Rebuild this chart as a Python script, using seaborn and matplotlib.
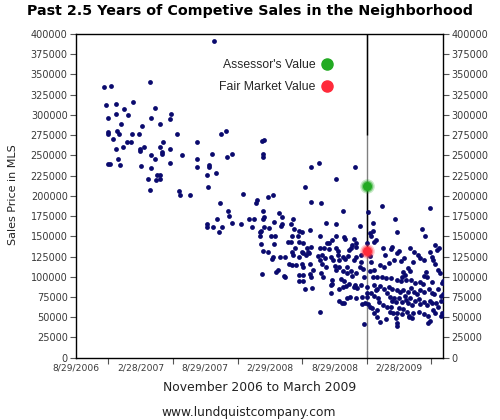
import matplotlib
matplotlib.use("Agg")
import matplotlib.pyplot as plt
import seaborn as sns
import pandas as pd
from matplotlib.lines import Line2D

# sale date as days after 8/29/2006, price in $1000
sale_day = [
    80, 98, 209, 85, 112, 135, 162, 224, 90, 112, 146, 212, 128, 237, 188, 91, 115, 90, 122, 158,
    177, 106, 145, 155, 246, 133, 237, 192, 181, 113, 180, 243, 244, 265, 212, 224, 118, 91, 95, 125,
    183, 212, 265, 228, 239, 203, 226, 237, 210, 391, 269, 265, 286, 410, 425, 343, 301, 385, 427, 441,
    343, 342, 377, 377, 397, 371, 373, 292, 294, 323, 473, 406, 431, 434, 399, 440, 467, 370, 370, 387,
    413, 404,
    527, 533, 529, 530,
    543, 557, 513, 509, 649, 665, 665, 530, 532, 528, 490, 503, 574, 582,
    561, 615, 609, 580, 584, 498, 531, 524, 520, 521, 547, 617, 663, 632, 638, 627, 551, 562, 612,
    523, 560, 601, 608, 630, 643, 619, 654, 530, 542, 558, 555, 577, 592, 610, 613, 640, 643, 651, 656, 659,
    602, 612, 621, 640, 643, 631, 565, 571, 589, 592, 631, 642, 630, 643, 526, 648, 661,
    686, 790, 735, 693, 756, 826, 803, 707, 735, 689,
    735, 758, 761, 724, 717, 710, 787, 793, 780, 792, 824, 831, 840, 666, 691, 702, 716, 735, 742, 772,
    778, 684, 697, 705, 691, 722, 728, 741, 743, 756, 769, 762, 793, 786, 805, 806, 833, 834,
    663, 669,
    697, 706, 693, 700, 733, 745, 736, 754, 768, 777, 768, 780, 792, 802, 813, 815, 833, 840,
    665, 724, 720, 750, 758, 763, 755, 744, 773, 790, 787, 796, 807, 667,
    721, 724, 823, 824, 823, 745, 753, 766, 775, 792, 809, 809, 818, 827, 831, 759, 691, 814,
    867, 1002, 901, 840, 980, 986, 908, 835, 848, 844, 895, 891, 913, 908, 945, 955, 1016, 1028, 1022, 869,
    874, 967, 974, 1000, 1007, 900, 886, 927, 919, 861, 871, 954, 983, 1011, 1015, 842, 938, 945, 925, 931,
    922, 1024, 1030, 991, 983,
    851, 865, 876, 891, 908, 920, 934, 948, 959, 974, 981, 993, 1008, 1035, 1037, 843, 852, 848, 860, 872,
    885, 895, 881, 908, 916, 925, 938, 930, 947, 956, 964, 973, 983, 998, 1006, 1014, 1024, 1032, 1038, 835,
    844, 853, 858, 889, 900, 893, 905, 915, 922, 934, 945, 940, 951, 960, 969, 974, 983, 992, 1001, 1007,
    1017, 1025, 1032, 868, 879, 891, 913, 926, 838, 851, 843, 889, 898, 909, 922, 936, 943, 954, 970, 983,
    996, 1009, 1016, 1036, 852, 860, 877, 904, 908, 909, 941, 950, 995, 1000,
    1033,
]

sale_price_k = [
    334.9, 336.1, 340.7, 311.9, 313.5, 307.7, 315.6, 308.9, 295.8, 301.5, 299.9, 295.8, 288.4, 289.2, 285.9, 279.3, 280.1, 276.1, 276.1, 276.1,
    276.1, 270.6, 266.2, 266.2, 266.2, 260.7, 260.7, 260.0, 257.9, 257.9, 255.8, 254.6, 251.3, 257.5, 250.8, 245.5, 245.5, 239.7, 239.7, 238.5,
    237.3, 234.0, 241.0, 226.1, 225.8, 220.4, 219.2, 220.4, 206.9, 391.0, 301.1, 295.0, 276.4, 276.1, 280.1, 266.2, 250.5, 251.3, 248.4, 251.3,
    245.5, 235.6, 238.5, 235.6, 228.2, 225.8, 210.6, 206.4, 200.7, 200.7, 202.3, 190.8, 181.3, 175.5, 171.8, 166.8, 165.6, 165.6, 161.1, 161.1,
    161.1, 155.7,
    267.8, 269.0, 251.7, 247.6,
    198.9, 200.7, 194.9, 190.8, 210.9, 236.0, 192.8, 181.6, 174.2, 171.4, 171.4, 171.0, 178.8, 174.2,
    168.1, 171.4, 165.6, 162.7, 165.2, 161.1, 161.5, 156.9, 155.0, 150.8, 159.9, 159.0, 157.8, 156.6, 155.0, 150.4, 150.4, 150.0, 150.8,
    140.5, 140.1, 143.3, 142.6, 142.6, 142.1, 135.9, 135.9, 131.8, 131.0, 124.8, 122.3, 124.8, 124.1, 130.2, 127.3, 131.0, 129.0, 126.9, 131.0, 129.0,
    116.2, 114.2, 114.2, 115.4, 112.4, 124.1, 106.3, 108.0, 101.0, 99.4, 101.8, 101.8, 95.1, 95.1, 103.1, 84.5, 103.4,
    241.0, 236.0, 220.4, 190.8, 180.9, 180.4, 163.1, 166.8, 165.6, 150.4,
    150.8, 148.8, 146.3, 145.4, 141.4, 142.1, 146.7, 141.4, 139.6, 137.2, 142.1, 154.5, 156.2, 136.8, 135.9, 135.9, 134.3, 135.9, 131.8, 133.1,
    135.2, 125.7, 126.9, 122.8, 120.7, 124.8, 120.7, 126.5, 120.7, 124.8, 125.7, 122.3, 124.1, 120.4, 126.9, 118.6, 125.7, 118.3,
    115.8, 108.4,
    115.4, 112.1, 104.3, 100.1, 113.3, 111.7, 108.4, 107.5, 112.4, 107.5, 104.3, 101.0, 104.3, 112.4, 109.2, 99.4, 107.5, 100.1,
    99.4, 96.0, 89.8, 97.3, 94.4, 88.6, 87.4, 84.5, 91.1, 89.8, 87.0, 85.8, 90.2, 85.8,
    79.6, 91.1, 87.7, 79.6, 75.4, 70.4, 68.0, 73.4, 75.4, 74.1, 75.4, 66.4, 67.2, 66.4, 63.0, 67.2, 56.8, 41.3,
    187.8, 185.4, 171.0, 166.1, 159.0, 150.8, 155.7, 150.8, 145.4, 143.3, 137.2, 134.0, 132.2, 129.7, 135.9, 131.0, 139.3, 135.6, 133.1, 135.2,
    126.5, 126.9, 123.6, 131.0, 124.8, 121.1, 117.0, 122.8, 119.9, 114.2, 112.4, 118.6, 120.7, 120.7, 115.8, 108.4, 110.5, 107.5, 106.3, 102.2,
    100.1, 108.4, 104.3, 105.5, 101.0,
    100.1, 100.1, 98.9, 98.9, 96.0, 94.8, 96.0, 96.0, 92.7, 93.5, 91.1, 99.4, 93.2, 92.7, 95.1, 90.2, 85.3, 83.7, 88.6, 85.3,
    87.7, 85.3, 79.6, 83.7, 81.6, 83.7, 81.6, 76.2, 85.8, 80.8, 78.7, 83.7, 81.6, 84.5, 80.3, 78.7, 84.5, 76.2, 78.7, 80.3,
    76.2, 73.4, 69.2, 75.4, 74.1, 70.1, 69.2, 73.4, 69.2, 70.9, 73.8, 68.0, 65.1, 70.1, 72.2, 66.4, 69.2, 65.1, 70.4, 67.2,
    68.0, 63.0, 70.1, 65.1, 62.3, 63.0, 61.0, 59.8, 61.4, 58.9, 54.9, 56.8, 54.9, 55.6, 54.0, 56.8, 51.5, 54.9, 56.8, 54.0,
    51.9, 58.9, 54.9, 54.9, 50.7, 44.5, 47.5, 48.7, 42.5, 39.2, 49.9, 48.7, 42.5, 45.7,
    51.1,
]

label_days = [0, 183, 365, 549, 731, 914]
label_text = ["8/29/2006", "2/28/2007", "8/29/2007", "2/29/2008", "8/29/2008", "2/28/2009"]
tick_days = [91, 274, 457, 640, 822, 1005]
y_ticks = list(range(0, 400001, 25000))

subject_day = 822
assessor_value = 212000
fair_market_value = 132000
green = "#22aa22"
red = "#ff2a3a"

df = pd.DataFrame({"day": sale_day, "price": [p * 1000 for p in sale_price_k]})

sns.set_style("ticks")
plt.rcParams["font.family"] = ["DejaVu Sans"]

fig = plt.figure(figsize=(5, 4.2), dpi=100)
ax = fig.add_axes([0.152, 0.1483, 0.7346, 0.7707])

sns.scatterplot(data=df, x="day", y="price", color="#0a0a6e", s=12, linewidth=0, ax=ax, zorder=3)

# subject property line and values
ax.axvline(subject_day, color="#808080", lw=1, zorder=2)
ax.vlines(subject_day, 275000, 400000, color="black", lw=1, zorder=2)
ax.vlines(subject_day, fair_market_value, assessor_value, color="black", lw=1, zorder=2)
for val, col in [(assessor_value, green), (fair_market_value, red)]:
    ax.scatter([subject_day], [val], s=110, color=col, alpha=0.25, linewidth=0, zorder=4)
    ax.scatter([subject_day], [val], s=70, color=col, alpha=0.5, linewidth=0, zorder=4)
    ax.scatter([subject_day], [val], s=42, color=col, linewidth=0, zorder=5)

ax.set_xlim(0, 1039)
ax.set_ylim(0, 400000)
ax.set_xlabel("")
ax.set_ylabel("")

ax.set_yticks(y_ticks)
ax.set_yticklabels([str(v) for v in y_ticks], fontsize=7, color="#3a3a3a")
ax.tick_params(axis="y", left=True, right=True, labelleft=True, labelright=True,
               length=4, width=0.8, color="#555555", pad=2)

ax.set_xticks(tick_days)
ax.set_xticklabels([""] * len(tick_days))
ax.set_xticks(label_days, minor=True)
ax.set_xticklabels(label_text, minor=True, fontsize=6.6, color="#3a3a3a")
ax.tick_params(axis="x", which="major", length=4, width=0.8, color="#555555")
ax.tick_params(axis="x", which="minor", length=0, pad=4)

for sp in ax.spines.values():
    sp.set_visible(True)
    sp.set_color("black")
    sp.set_linewidth(1)

handles = [
    Line2D([], [], marker="o", ls="", color=green, markersize=8),
    Line2D([], [], marker="o", ls="", color=red, markersize=8),
]
fig.legend(handles, ["Assessor's Value", "Fair Market Value"], markerfirst=False, frameon=False,
           loc="upper left", bbox_to_anchor=(219 / 500, 1 - 59 / 420), bbox_transform=fig.transFigure,
           borderpad=0, borderaxespad=0, handlelength=1.0, handletextpad=0.45, labelspacing=0.8,
           prop={"family": "Liberation Sans", "size": 8.8})

fig.text(0.5, 1 - 11.5 / 420, "Past 2.5 Years of Competive Sales in the Neighborhood",
         ha="center", va="center", fontsize=10.3, fontweight="bold", color="black")
fig.text(13 / 500, 1 - 195 / 420, "Sales Price in MLS", rotation=90, ha="center", va="center",
         fontsize=8, color="#222222")
fig.text(259.5 / 500, 1 - 387.7 / 420, "November 2006 to March 2009", ha="center", va="center",
         fontsize=8.9, color="#222222")
fig.text(249 / 500, 1 - 412.3 / 420, "www.lundquistcompany.com", ha="center", va="center",
         fontsize=8.8, color="#222222")

fig.savefig("out.png", dpi=100)
